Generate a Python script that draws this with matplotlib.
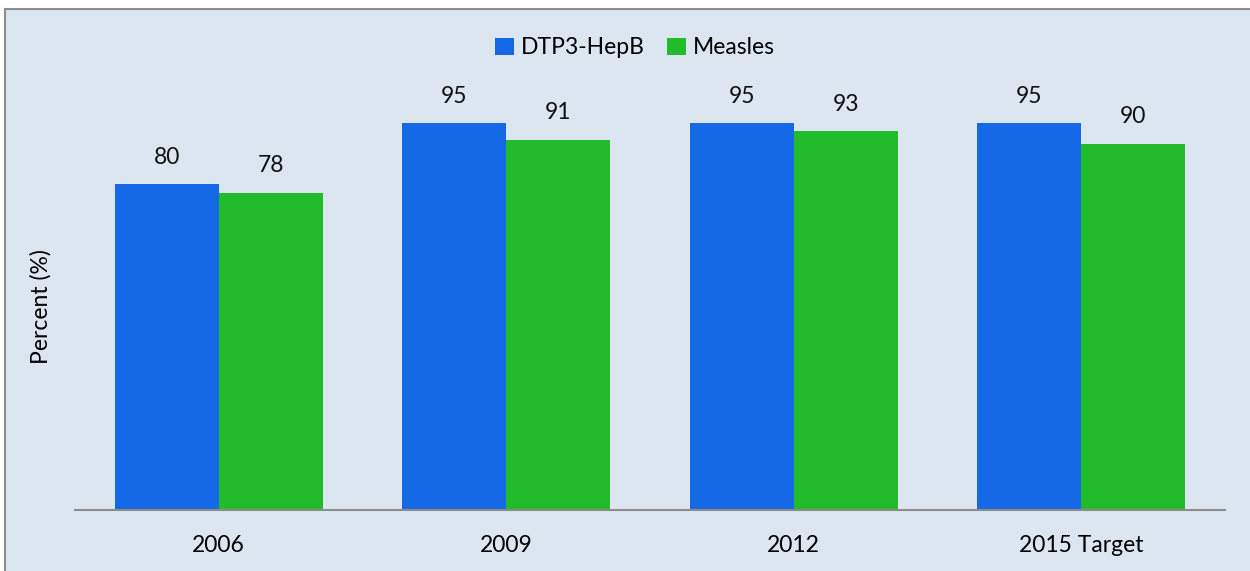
import numpy as np
import matplotlib
matplotlib.use("Agg")
import matplotlib.pyplot as plt
from matplotlib.patches import Rectangle

# data
categories = ["2006", "2009", "2012", "2015 Target"]
dtp3_hepb = [80, 95, 95, 95]
measles = [78, 91, 93, 90]

blue = "#1569e6"
green = "#22bb2c"
bg = "#dce6f1"
fs = 16.5

plt.rcParams['font.family'] = ['Lato', 'DejaVu Sans']

fig = plt.figure(figsize=(12.5, 5.71), dpi=100)
fig.patch.set_facecolor("white")

# panel background with grey border on top/left (runs off right/bottom)
panel = Rectangle((4.5 / 1250, -0.05), 1.1, 1.05 - 9.5 / 571, transform=fig.transFigure,
                  facecolor=bg, edgecolor="#8c8c8c", linewidth=1.5, zorder=-5)
fig.patches.append(panel)

ax = fig.add_axes([75 / 1250, 1 - 510 / 571, 1150 / 1250, 407 / 571])
ax.set_facecolor("none")
ax.set_zorder(1)

x = np.arange(len(categories))
w = 0.362
b1 = ax.bar(x - w / 2, dtp3_hepb, w, color=blue, label="DTP3-HepB")
b2 = ax.bar(x + w / 2, measles, w, color=green, label="Measles")

for bars, vals in ((b1, dtp3_hepb), (b2, measles)):
    for rect, v in zip(bars, vals):
        ax.annotate(str(v), (rect.get_x() + rect.get_width() / 2, v),
                    xytext=(0, 12), textcoords="offset points",
                    ha="center", va="bottom", fontsize=fs, color="#111111")

ax.set_xlim(-0.5, len(categories) - 0.5)
ax.set_ylim(0, 100)
ax.set_xticks(x)
ax.set_xticklabels(categories, fontsize=fs)
ax.tick_params(axis="x", length=0, pad=18)
ax.set_yticks([])
ax.set_ylabel("Percent (%)", fontsize=fs, labelpad=17)

for s in ("top", "right", "left"):
    ax.spines[s].set_visible(False)
ax.spines["bottom"].set_color("#8c8c8c")
ax.spines["bottom"].set_linewidth(1.5)

fig.legend(handles=[b1, b2], loc="center", bbox_to_anchor=(635 / 1250, 1 - 48 / 571),
           ncol=2, frameon=False, fontsize=fs, handlelength=0.8, handleheight=0.8,
           handletextpad=0.3, columnspacing=1.0)

fig.savefig("out.png", dpi=100, facecolor=fig.get_facecolor())
